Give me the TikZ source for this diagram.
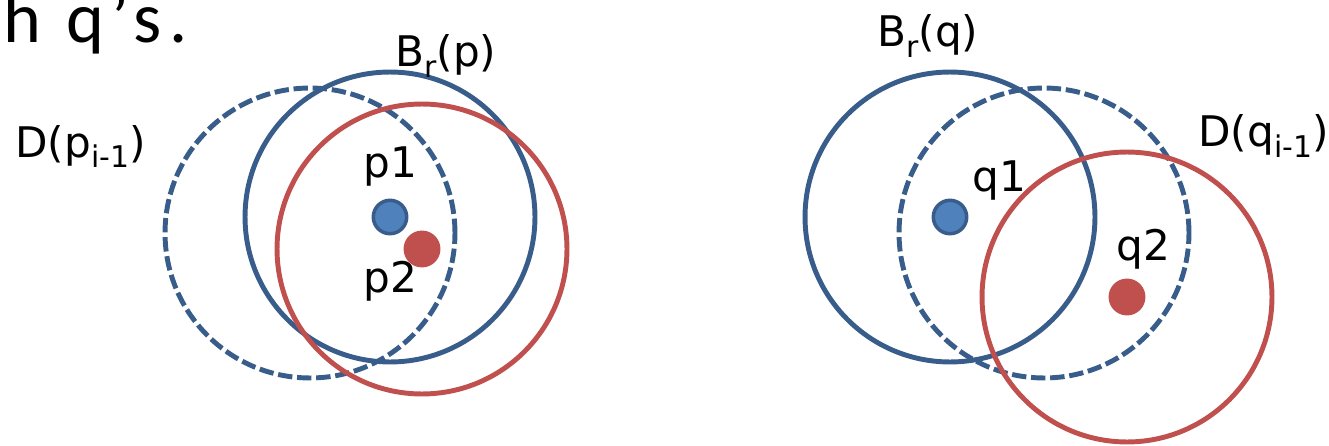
\documentclass[tikz,border=0pt]{standalone}
\usepackage{fontspec}
\newfontfamily\lblfont{DejaVu Sans}
\newfontfamily\headfont{Carlito}[LetterSpace=11]
\usepackage{tikz}
\usetikzlibrary{positioning}
\definecolor{ringblue}{RGB}{56,93,138}
\definecolor{dotblue}{RGB}{79,129,189}
\definecolor{ringred}{RGB}{192,80,77}
\newcommand{\subtxt}[1]{\raisebox{-6pt}{\fontsize{17}{17}\selectfont #1}}
\tikzset{
  ring/.style     ={line width=2.8pt},
  bluering/.style ={ring, color=ringblue},
  dashring/.style ={ring, color=ringblue, dash pattern=on 8.2pt off 2.7pt},
  redring/.style  ={ring, color=ringred},
  bluedot/.style  ={circle, inner sep=0pt, minimum size=19pt, fill=dotblue, draw=ringblue, line width=2pt},
  reddot/.style   ={circle, inner sep=0pt, minimum size=21pt, fill=ringred},
  lbl/.style      ={font=\lblfont\fontsize{24}{28}\selectfont, inner sep=0pt, anchor=base west},
  toptxt/.style   ={font=\headfont\fontsize{41}{44}\selectfont, inner sep=0pt, anchor=base east},
}
\begin{document}
\begin{tikzpicture}[x=0.02cm, y=-0.02cm]
\useasboundingbox (0,0) rectangle (1329,446);
\node[toptxt] (title) at (188,43) {ch q’s.};
% case p
\coordinate (cDp) at (310,233);
\coordinate (cP1) at (390,217);
\coordinate (cP2) at (422,249);
\draw[dashring] (cDp) circle[radius=2.9cm];
\draw[bluering] (cP1) circle[radius=2.9cm];
\draw[redring]  (cP2) circle[radius=2.9cm];
\node[bluedot] (dotP1) at (cP1) {};
\node[reddot]  (dotP2) at (cP2) {};
\node[lbl] (lblBrp) at (395,67)  {B\subtxt{r}(p)};
\node[lbl] (lblDp)  at (15,157)  {D(p\subtxt{i-1})};
\node[lbl] (lblP1)  at (363,177) {p1};
\node[lbl] (lblP2)  at (363,292) {p2};
% case q
\coordinate (cDq) at (1044,233);
\coordinate (cQ1) at (950,217);
\coordinate (cQ2) at (1127,297);
\draw[bluering] (cQ1) circle[radius=2.9cm];
\draw[dashring] (cDq) circle[radius=2.9cm];
\draw[redring]  (cQ2) circle[radius=2.9cm];
\node[bluedot] (dotQ1) at (cQ1) {};
\node[reddot]  (dotQ2) at (cQ2) {};
\node[lbl] (lblBrq) at (877,47)  {B\subtxt{r}(q)};
\node[lbl] (lblDq)  at (1198,147) {D(q\subtxt{i-1})};
\node[lbl] (lblQ1)  at (972,192) {q1};
\node[lbl] (lblQ2)  at (1116,260) {q2};
\end{tikzpicture}
\end{document}
